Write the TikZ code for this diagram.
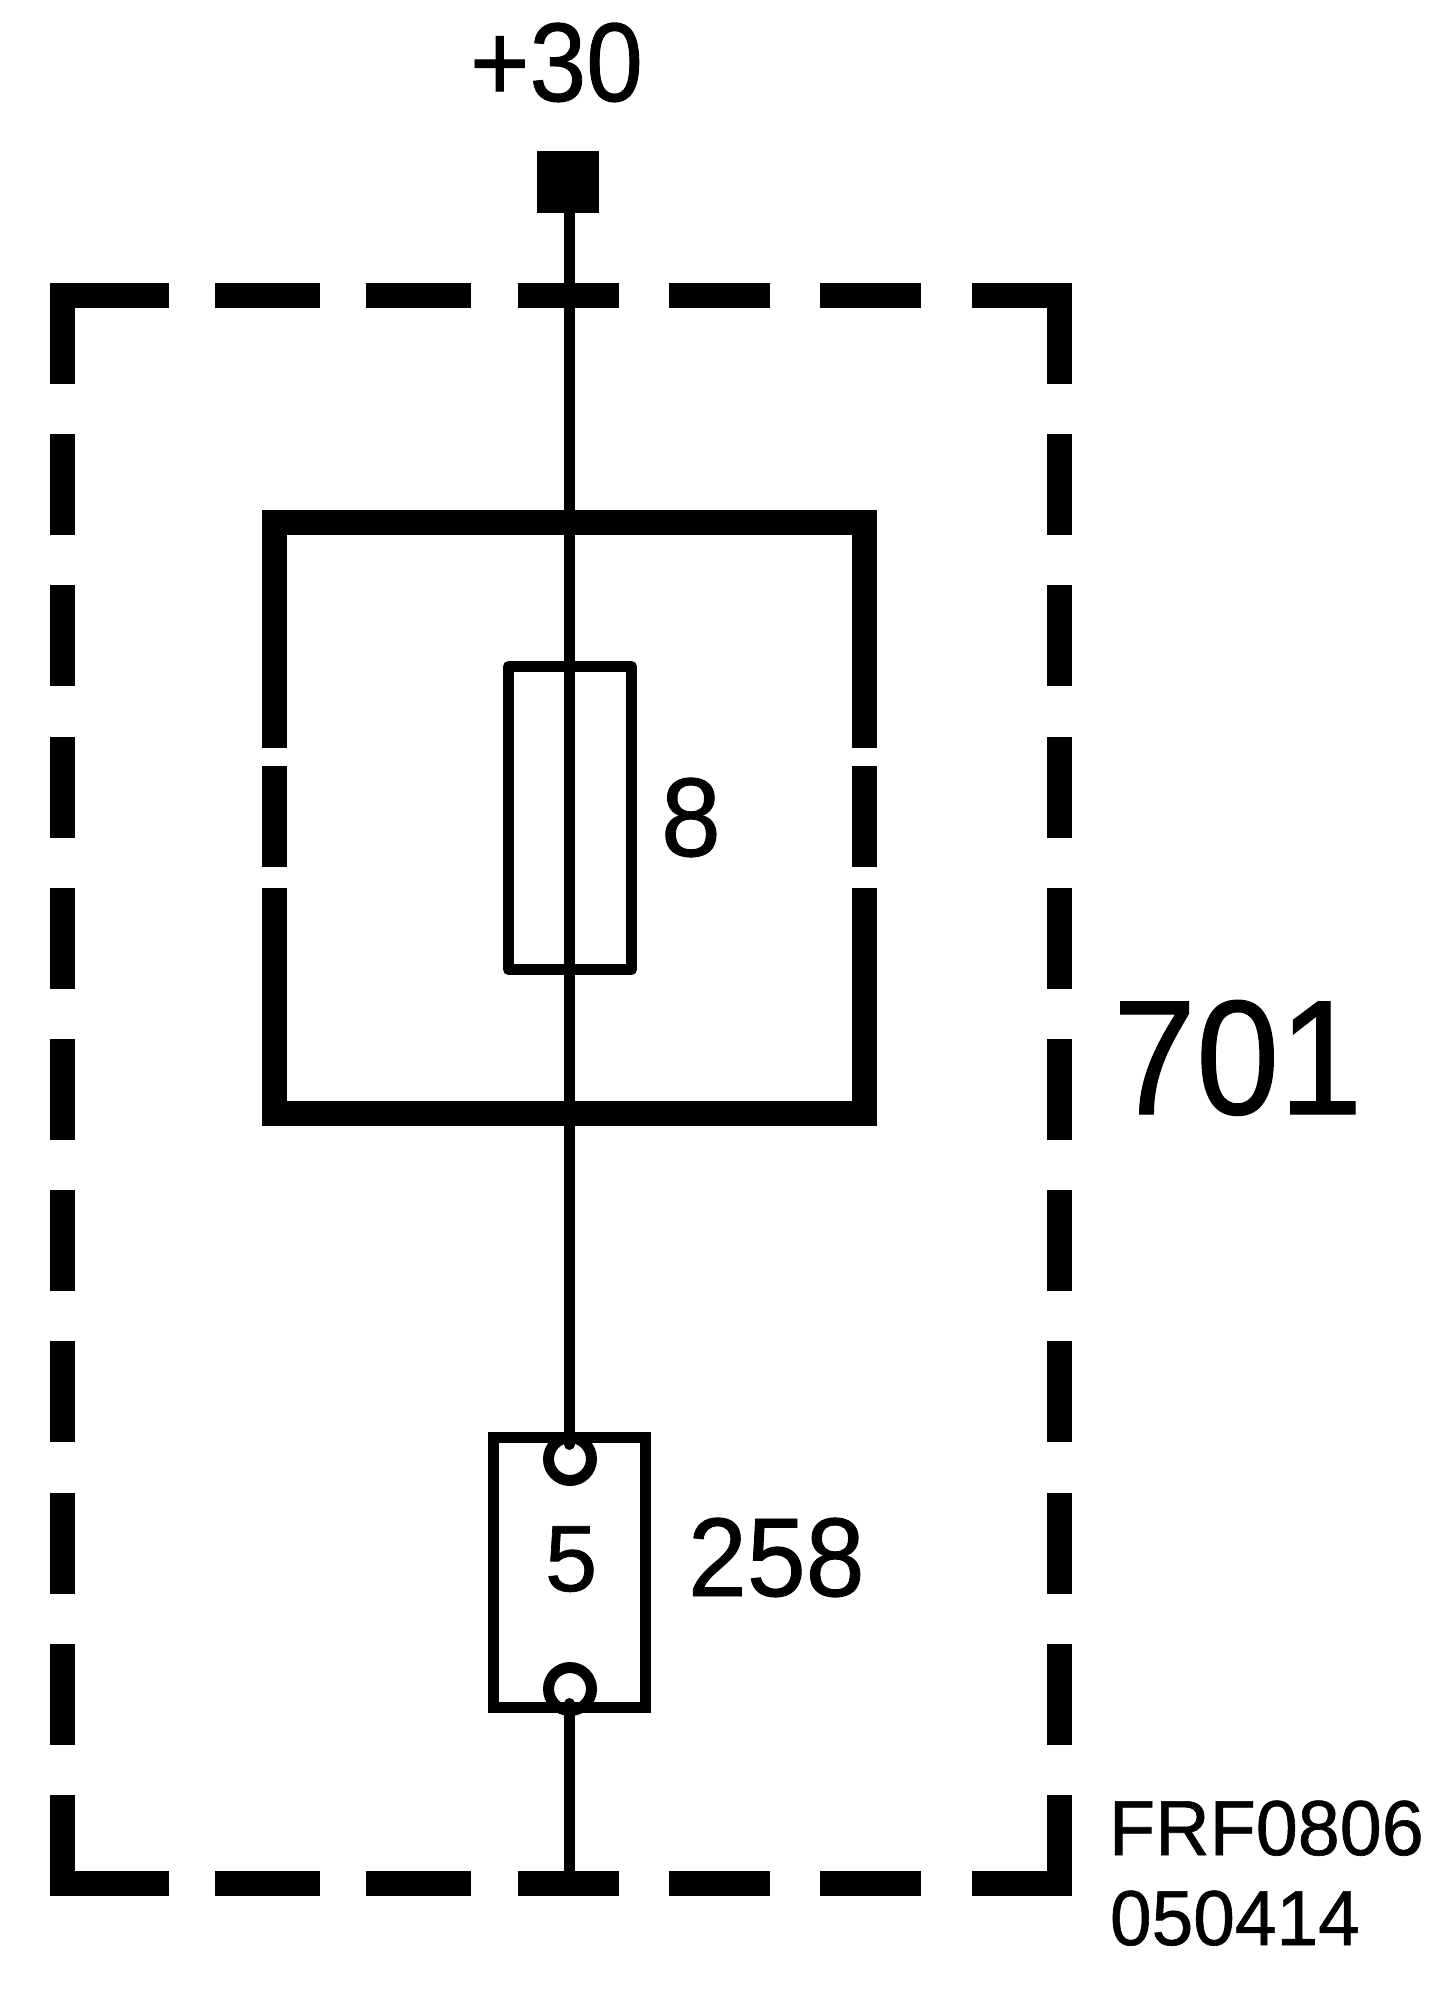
\documentclass[tikz,border=0pt]{standalone}
\usepackage{fontspec}
\usepackage{graphicx}
\setmainfont{Liberation Sans}
\newfontfamily\lblface[RawFeature={embolden=0.8}]{Liberation Sans}
\tikzset{
  framedash/.style={line width=25pt,line cap=butt,line join=miter},
  heavy/.style={line width=25pt,line cap=butt,line join=miter},
  thinbox/.style={draw,line width=11pt,minimum width=#1,inner sep=0pt,outer sep=0pt},
  wire/.style={line width=11pt,line cap=round},
  pin/.style={circle,draw,fill=white,line width=11pt,minimum size=43pt,inner sep=0pt,outer sep=0pt},
  lbl/.style={inner sep=0pt,outer sep=0pt,anchor=base west,text=black}
}
\newcommand{\lblfont}[3]{\lblface\fontsize{#1}{#1}\selectfont\scalebox{#2}[1]{#3}}
\begin{document}
\begin{tikzpicture}[x=1pt,y=-1pt]
\useasboundingbox (0,0) rectangle (1456,2000);
% dashed enclosure
\draw[framedash] (169,295.5) -- (62.5,295.5) -- (62.5,384);
\draw[framedash] (972,295.5) -- (1059.5,295.5) -- (1059.5,384);
\draw[framedash] (169,1883.5) -- (62.5,1883.5) -- (62.5,1795);
\draw[framedash] (972,1883.5) -- (1059.5,1883.5) -- (1059.5,1795);
\foreach \a/\b in {215/320,366/471,518/619,669/770,820/921}{
  \draw[framedash] (\a,295.5) -- (\b,295.5);
  \draw[framedash] (\a,1883.5) -- (\b,1883.5);
}
\foreach \a/\b in {434/535,585/686,737/838,888/989,1039/1140,1190/1291,1341/1442,1493/1594,1644/1745}{
  \draw[framedash] (62.5,\a) -- (62.5,\b);
  \draw[framedash] (1059.5,\a) -- (1059.5,\b);
}
% heavy box
\draw[heavy] (274.5,748) -- (274.5,522.5) -- (864.5,522.5) -- (864.5,748);
\draw[heavy] (274.5,766) -- (274.5,867);
\draw[heavy] (864.5,766) -- (864.5,867);
\draw[heavy] (274.5,888) -- (274.5,1113) -- (864.5,1113) -- (864.5,888);
% fuse and connector block
\node[thinbox=123pt,minimum height=303pt,line join=round] (fuse) at (570,818) {};
\node[pin] (pinT) at (570,1459) {};
\node[pin] (pinB) at (570,1689) {};
\node[thinbox=152pt,minimum height=270pt] (block) at (569.5,1572.5) {};
% terminal
\node[fill=black,minimum size=62pt,inner sep=0pt,outer sep=0pt] (term) at (568,182) {};
% wires
\coordinate (tipT) at (569.5,1444.5);
\coordinate (tipB) at (569.5,1703.5);
\coordinate (busT) at (569.5,182);
\coordinate (busB) at (569.5,1880);
\draw[wire] (busT) -- (tipT);
\draw[wire] (tipB) -- (busB);
% labels
\node[lbl] (l30) at (470,101) {\lblfont{112}{.91}{+30}};
\node[lbl] (l8) at (661,856) {\lblfont{112}{.96}{8}};
\node[lbl] (l5) at (545,1591) {\lblfont{94}{1}{5}};
\node[lbl] (l258) at (688,1596) {\lblfont{112}{.945}{258}};
\node[lbl] (l701) at (1113,1114) {\lblfont{163}{.917}{701}};
\node[lbl] (lfrf) at (1109,1855) {\lblfont{78}{.968}{FRF0806}};
\node[lbl] (ldate) at (1110,1945) {\lblfont{78}{.96}{050414}};
\end{tikzpicture}
\end{document}
